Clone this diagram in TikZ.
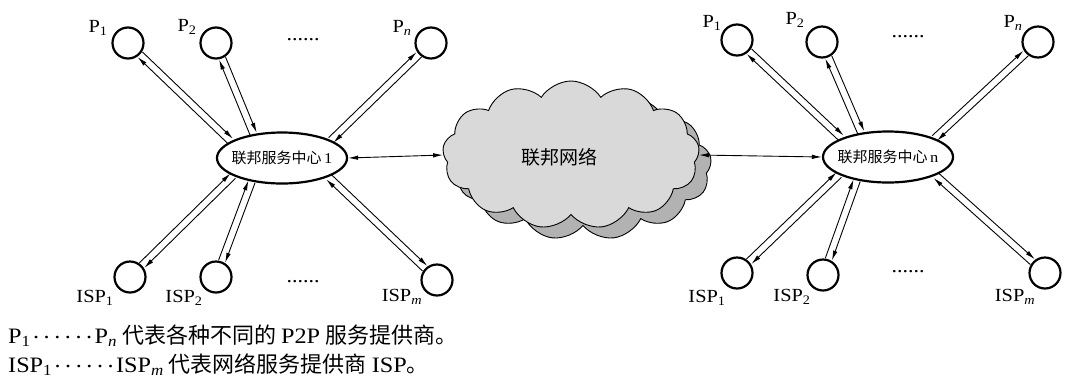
\documentclass[tikz,border=0pt]{standalone}
\usepackage{fontspec}
\setmainfont{Liberation Serif}[FakeStretch=1.1]
\newfontfamily\cjk{Noto Sans CJK SC}
\usetikzlibrary{shapes.geometric,shapes.symbols,shadows,arrows.meta,calc}

\tikzset{
  peer/.style={draw,circle,line width=2.2pt,minimum size=31pt,inner sep=0pt},
  hub/.style={draw,ellipse,line width=2.2pt,minimum width=130pt,minimum height=51pt,inner xsep=-5pt,inner ysep=0pt,font=\fontsize{15}{17}\selectfont},
  link/.style={-{Latex[length=10pt,width=4.5pt]},line width=0.9pt},
  lbl/.style={inner sep=0pt,font=\fontsize{18.5}{20}\selectfont},
  dots/.style={inner sep=0pt,font=\fontsize{20}{20}\selectfont},
  note/.style={anchor=west,inner sep=0pt,font=\fontsize{22}{24}\selectfont},
}

% two one-way lines side by side between node #1 and node #2
\newcommand{\duplex}[2]{%
  \path (#1) -- (#2) coordinate[pos=0] (s) coordinate[pos=1] (e);
  \draw[link] ($(s)!3.5pt!90:(e)$) -- ($(e)!3.5pt!-90:(s)$);
  \draw[link] ($(e)!3.5pt!90:(s)$) -- ($(s)!3.5pt!-90:(e)$);}
% six centred dots and Chinese text in the notes
\newcommand{\middots}{\makebox[64pt]{\raisebox{0.22em}{\cleaders\hbox to 10.6pt{\hss.\hss}\hskip 64pt}}}
\newcommand{\zhfont}{\cjk\fontsize{22}{23}\selectfont}
\newcommand{\zh}[1]{\hspace{5pt}{\zhfont #1}\hspace{5pt}}

\begin{document}
\begin{tikzpicture}[x=1pt,y=-1pt]
\useasboundingbox (0,0) rectangle (1067,389);

% Federation network
\node[cloud,cloud puffs=13,cloud puff arc=115,cloud ignores aspect,draw,line width=0.9pt,fill=gray!30,
  minimum width=257pt,minimum height=148pt,
  copy shadow={shadow xshift=12pt,shadow yshift=-11pt,fill=gray!60,draw,line width=0.9pt}]
  (cloud) at (571,155) {};
\node[font=\cjk\fontsize{19}{21}\selectfont] (net) at (559,157) {联邦网络};

% Service centres
\node[hub] (hubA) at (282,158) {{\cjk 联邦服务中心}\,1};
\node[hub] (hubB) at (888,157) {{\cjk 联邦服务中心}\,n};

% Left peers and ISPs
\node[peer] (pA1) at (128,43) {};
\node[peer] (pA2) at (216,43) {};
\node[peer] (pAn) at (431,43) {};
\node[peer] (iA1) at (130,277) {};
\node[peer] (iA2) at (216,277) {};
\node[peer] (iAm) at (437,280) {};

% Right peers and ISPs
\node[peer] (pB1) at (737,40) {};
\node[peer] (pB2) at (822,42) {};
\node[peer] (pBn) at (1038,42) {};
\node[peer] (iB1) at (737,273) {};
\node[peer] (iB2) at (823,275) {};
\node[peer] (iBm) at (1045,273) {};

% Connections
\duplex{pA1}{hubA.162}
\duplex{pA2}{hubA.140}
\duplex{pAn}{hubA.20}
\duplex{iA1}{hubA.200}
\duplex{iA2}{hubA.218}
\duplex{iAm}{hubA.338}
\duplex{pB1}{hubB.158}
\duplex{pB2}{hubB.138}
\duplex{pBn}{hubB.22}
\duplex{iB1}{hubB.200}
\duplex{iB2}{hubB.217}
\duplex{iBm}{hubB.339}
\draw[link,{Latex[length=10pt,width=4.5pt]}-{Latex[length=10pt,width=4.5pt]}] (hubA.east) -- (cloud.west);
\draw[link,{Latex[length=10pt,width=4.5pt]}-{Latex[length=10pt,width=4.5pt]}] (hubB.west) -- (cloud.east);

% Labels
\node[lbl] (lpA1) at (98,28) {P\textsubscript{1}};
\node[lbl] (lpA2) at (187,27) {P\textsubscript{2}};
\node[lbl] (lpAn) at (402,28) {P\textsubscript{\itshape n}};
\node[lbl] (liA1) at (95,298) {ISP\textsubscript{1}};
\node[lbl] (liA2) at (184,298) {ISP\textsubscript{2}};
\node[lbl] (liAm) at (402,297) {ISP\textsubscript{\itshape m}};
\node[lbl] (lpB1) at (712,23) {P\textsubscript{1}};
\node[lbl] (lpB2) at (795,20) {P\textsubscript{2}};
\node[lbl] (lpBn) at (1013,23) {P\textsubscript{\itshape n}};
\node[lbl] (liB1) at (707,298) {ISP\textsubscript{1}};
\node[lbl] (liB2) at (792,297) {ISP\textsubscript{2}};
\node[lbl] (liBm) at (1015,297) {ISP\textsubscript{\itshape m}};
\node[dots] (dA1) at (303,40) {......};
\node[dots] (dA2) at (303,282) {......};
\node[dots] (dB1) at (908,37) {......};
\node[dots] (dB2) at (908,272) {......};

% Notes
\node[note] (note1) at (8,336)
  {P\textsubscript{1}\middots P\textsubscript{\itshape n}\zh{代表各种不同的}P2P\hspace{5pt}{\zhfont 服务提供商。}};
\node[note] (note2) at (8,365)
  {ISP\textsubscript{1}\middots ISP\textsubscript{\itshape m}\zh{代表网络服务提供商}ISP{\zhfont 。}};
\end{tikzpicture}
\end{document}
